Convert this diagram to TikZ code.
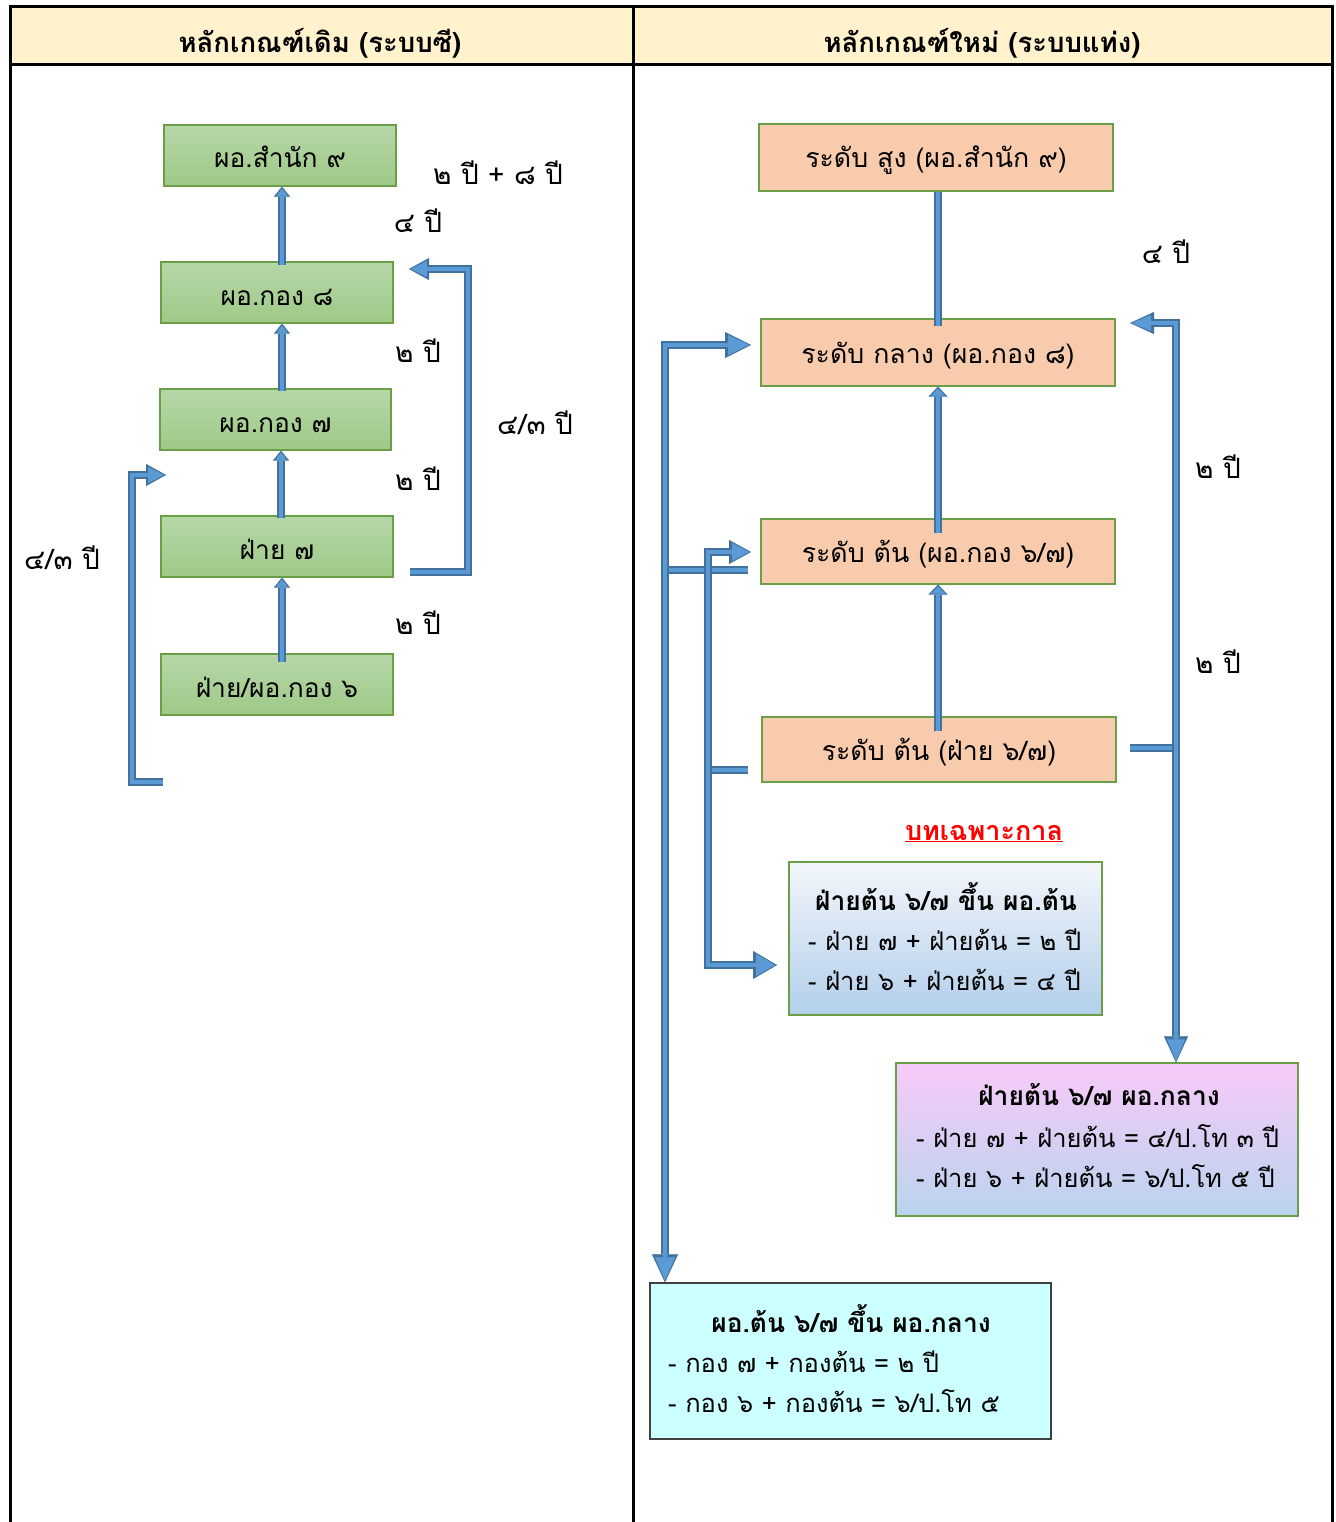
\documentclass[tikz,border=0pt]{standalone}
\usepackage{fontspec}
\setmainfont{Loma}[Script=Thai]
\usetikzlibrary{arrows.meta}
\definecolor{hdr}{HTML}{FFF2CC}
\definecolor{gtop}{HTML}{B6D7A8}
\definecolor{gbot}{HTML}{9FC987}
\definecolor{gborder}{HTML}{6A9F48}
\definecolor{peach}{HTML}{F8CBAD}
\definecolor{ablue}{HTML}{5B9BD5}
\definecolor{adark}{HTML}{41719C}
\definecolor{btop}{HTML}{F3F6FB}
\definecolor{bbot}{HTML}{B2CFEB}
\definecolor{ptop}{HTML}{F8CAF8}
\definecolor{pbot}{HTML}{B9D4EE}
\definecolor{cyanbox}{HTML}{CCFFFF}
\tikzset{
  gbox/.style={inner sep=0pt, text height=25pt, text depth=0pt, font=\fontsize{26.4}{30}\selectfont,
     draw=gborder, line width=1.2pt, top color=gtop, bottom color=gbot},
  pbox/.style={inner sep=0pt, text height=21pt, text depth=0pt, font=\fontsize{26.7}{30}\selectfont,
     draw=gborder, line width=1.2pt, fill=peach},
  lbl/.style={anchor=base, inner sep=0pt, font=\fontsize{28}{32}\selectfont},
  hdrtxt/.style={anchor=base, inner sep=0pt, font=\bfseries\fontsize{27.5}{31}\selectfont},
  ttl/.style={anchor=base, inner sep=0pt, font=\bfseries\fontsize{26.4}{30}\selectfont},
  ln/.style={anchor=base west, inner sep=0pt, font=\fontsize{25.5}{29}\selectfont},
  bar/.style={draw=adark, line width=7.5pt, postaction={draw=ablue, line width=4.5pt}},
  blka/.style n args={4}{draw=adark, line width=7.5pt,
     -{Triangle[width=#1pt,length=#2pt,line width=0.1pt]},
     postaction={draw=ablue, line width=4.5pt, shorten >=2pt,
       -{Triangle[width=#3pt,length=#4pt,line width=0.1pt]}}},
  grid/.style={draw=black, line width=3pt}
}
\begin{document}
\begin{tikzpicture}[x=1pt,y=-1pt]
\useasboundingbox (0,0) rectangle (1335,1522);
% table
\fill[hdr] (10,7) rectangle (1332,65);
\draw[grid] (10,1522) -- (10,7) -- (1332,7) -- (1332,1522);
\draw[grid] (10,65) -- (1332,65);
\draw[grid] (633,7) -- (633,1522);
\node[hdrtxt] (h1) at (320,53) {หลักเกณฑ์เดิม (ระบบซี)};
\node[hdrtxt] (h2) at (982,53) {หลักเกณฑ์ใหม่ (ระบบแท่ง)};

% left column boxes
\node[gbox, minimum width=232, minimum height=61] (g9) at (280,155.5) {ผอ.สำนัก ๙};
\node[gbox, minimum width=232, minimum height=61] (g8) at (277,292.5) {ผอ.กอง ๘};
\node[gbox, minimum width=231, minimum height=61] (g7) at (275.5,419.5) {ผอ.กอง ๗};
\node[gbox, minimum width=232, minimum height=61] (f7) at (277,546.5) {ฝ่าย ๗};
\node[gbox, minimum width=232, minimum height=61] (f6) at (277,684.5) {ฝ่าย/ผอ.กอง ๖};

% left arrows
\draw[blka={16}{10}{11}{7}] (282,265) -- (282,0 |- g9.south);
\draw[blka={16}{10}{11}{7}] (282,391) -- (282,0 |- g8.south);
\draw[blka={16}{10}{11}{7}] (281,518) -- (281,0 |- g7.south);
\draw[blka={16}{10}{11}{7}] (282,662) -- (282,0 |- f7.south);
\coordinate (lr1) at (410,572);
\coordinate (lr2) at (409,269);
\draw[blka={22}{20}{16}{16}] (lr1) -- (468,572) -- (468,269) -- (lr2);
\coordinate (ll1) at (163,782);
\coordinate (ll2) at (166,475);
\draw[blka={22}{20}{16}{16}] (ll1) -- (132,782) -- (132,475) -- (ll2);

% left labels
\node[lbl] (t1) at (498,185) {๒ ปี + ๘ ปี};
\node[lbl] (t2) at (418,233) {๔ ปี};
\node[lbl] (t3) at (418,362) {๒ ปี};
\node[lbl] (t4) at (418,490) {๒ ปี};
\node[lbl] (t5) at (418,634) {๒ ปี};
\node[lbl] (t6) at (535,434) {๔/๓ ปี};
\node[lbl] (t7) at (62,569) {๔/๓ ปี};

% right column boxes
\node[pbox, minimum width=354, minimum height=67] (r9) at (936,157.5) {ระดับ สูง (ผอ.สำนัก ๙)};
\node[pbox, minimum width=354, minimum height=67] (r8) at (938,352.5) {ระดับ กลาง (ผอ.กอง ๘)};
\node[pbox, minimum width=354, minimum height=65] (r67) at (938,551.5) {ระดับ ต้น (ผอ.กอง ๖/๗)};
\node[pbox, minimum width=354, minimum height=65] (rf) at (939,749.5) {ระดับ ต้น (ฝ่าย ๖/๗)};

% special boxes
\node[draw=gborder, line width=1.2pt, top color=btop, bottom color=bbot, minimum width=313, minimum height=153, inner sep=0pt] (bx) at (945.5,938.5) {};
\node[draw=gborder, line width=1.2pt, top color=ptop, bottom color=pbot, minimum width=402, minimum height=153, inner sep=0pt] (px) at (1097,1139.5) {};
\node[draw=black!75, line width=1.2pt, fill=cyanbox, minimum width=401, minimum height=156, inner sep=0pt] (cx) at (850.5,1361) {};

\node[ttl] (bt) at (946,910) {ฝ่ายต้น ๖/๗ ขึ้น ผอ.ต้น};
\node[ln] (b1) at (808,950) {- ฝ่าย ๗ + ฝ่ายต้น = ๒ ปี};
\node[ln] (b2) at (808,990) {- ฝ่าย ๖ + ฝ่ายต้น = ๔ ปี};
\node[ttl] (pt) at (1099,1105) {ฝ่ายต้น ๖/๗ ผอ.กลาง};
\node[ln] (p1) at (916,1147) {- ฝ่าย ๗ + ฝ่ายต้น = ๔/ป.โท ๓ ปี};
\node[ln] (p2) at (916,1187) {- ฝ่าย ๖ + ฝ่ายต้น = ๖/ป.โท ๕ ปี};
\node[ttl] (ct) at (851,1332) {ผอ.ต้น ๖/๗ ขึ้น ผอ.กลาง};
\node[ln] (c1) at (668,1372) {- กอง ๗ + กองต้น = ๒ ปี};
\node[ln] (c2) at (668,1412) {- กอง ๖ + กองต้น = ๖/ป.โท ๕};

\node[anchor=base, inner sep=0pt, text=red, font=\bfseries\fontsize{27}{31}\selectfont] (bk) at (984,840) {\underline{บทเฉพาะกาล}};

% right arrows
\draw[bar] (938,0 |- r9.south) -- (938,326);
\draw[blka={19}{10}{14}{7}] (938,533) -- (938,0 |- r8.south);
\draw[blka={19}{10}{14}{7}] (938,731) -- (938,0 |- r67.south);
\coordinate (rr1) at (1130,748);
\coordinate (rr2) at (1130,323);
\draw[blka={22}{24}{16}{19}] (rr1) -- (1176,748) -- (1176,323) -- (rr2);
\draw[blka={24}{26}{18}{21}] (1176,745) -- (1176,0 |- px.north);
\coordinate (lo1) at (748,570);
\coordinate (lo2) at (751,345);
\draw[blka={26}{26}{20}{21}] (lo1) -- (665,570) -- (665,345) -- (lo2);
\draw[blka={26}{28}{20}{23}] (665,550) -- (665,0 |- cx.north);
\coordinate (li1) at (748,770);
\coordinate (li2) at (751,552);
\coordinate (li3) at (777,965);
\draw[blka={24}{22}{18}{17}] (li1) -- (708,770) -- (708,552) -- (li2);
\draw[blka={28}{24}{22}{19}] (708,755) -- (708,965) -- (li3);

% right labels
\node[lbl] (u1) at (1166,263) {๔ ปี};
\node[lbl] (u2) at (1218,478) {๒ ปี};
\node[lbl] (u3) at (1218,673) {๒ ปี};
\end{tikzpicture}
\end{document}
